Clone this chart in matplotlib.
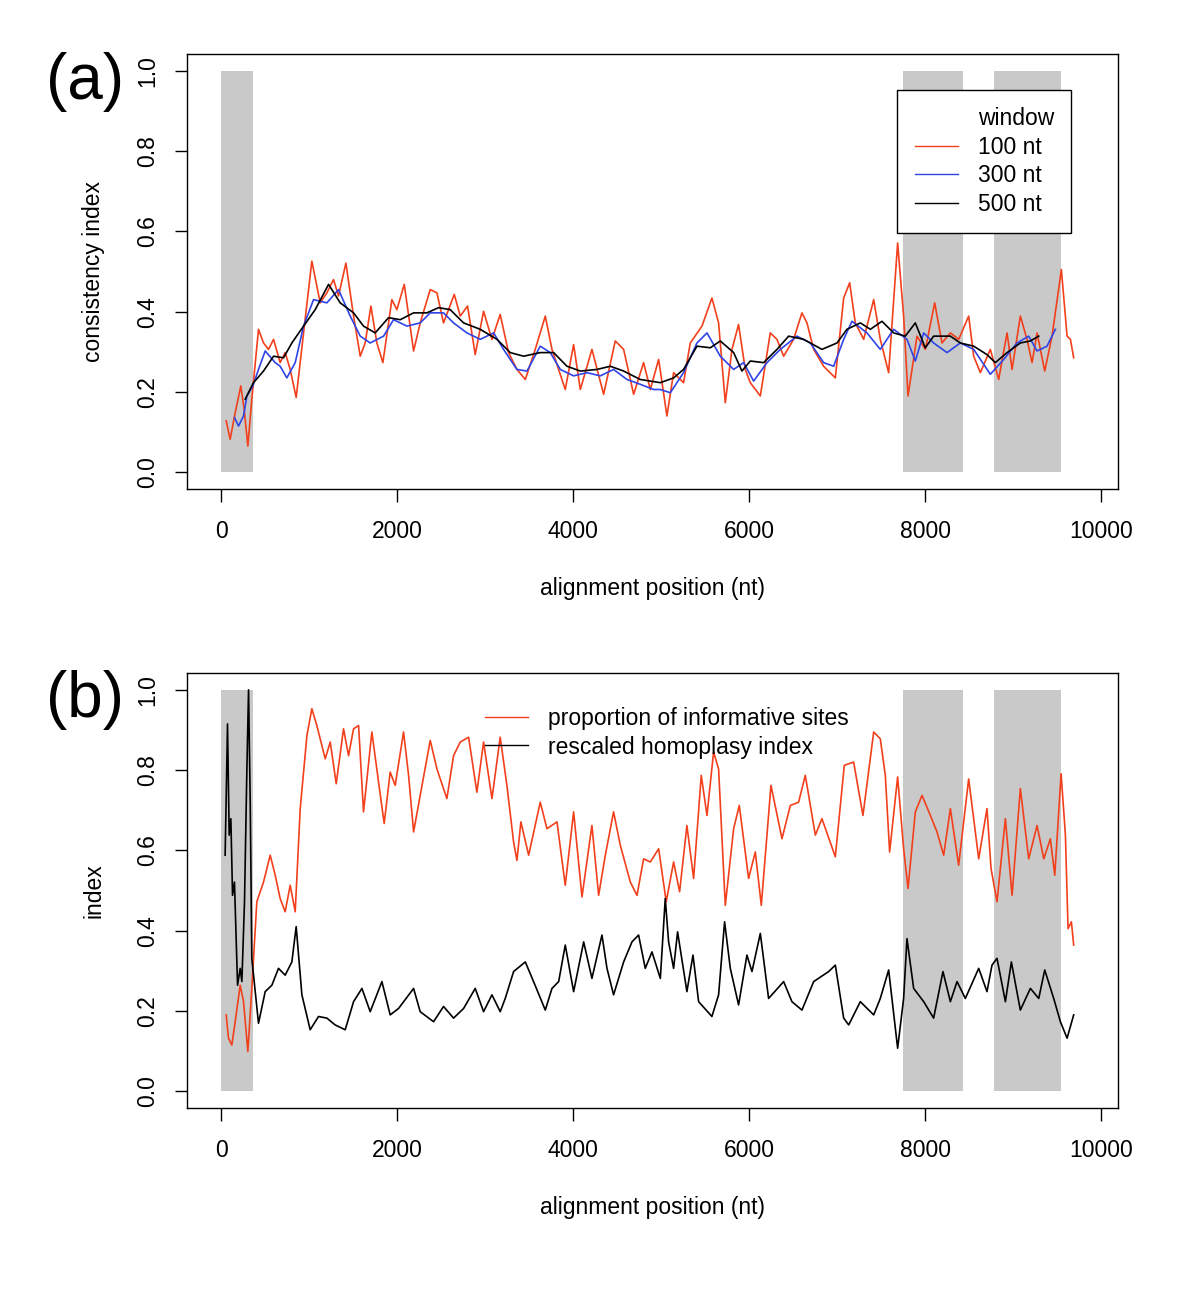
import matplotlib
matplotlib.use('Agg')
import matplotlib.pyplot as plt
from matplotlib.lines import Line2D

plt.rcParams['font.family'] = ['Liberation Sans', 'DejaVu Sans']

# shaded regions (nt)
shade_starts = [0, 7750, 8775]
shade_ends = [360, 8430, 9545]

# (a) consistency index, 100 nt window
ci100_x = [57, 102, 159, 223, 261, 303, 348, 424, 481, 538, 595, 670, 727, 784, 852, 936,
           1030, 1125, 1201, 1276, 1333, 1417, 1504, 1580, 1636, 1701, 1769, 1837, 1939, 1996,
           2080, 2186, 2261, 2375, 2451, 2526, 2648, 2716, 2799, 2886, 2981, 3076, 3170, 3265,
           3360, 3455, 3568, 3682, 3758, 3909, 4004, 4080, 4212, 4345, 4477, 4572, 4686, 4799,
           4875, 4970, 5064, 5140, 5253, 5329, 5462, 5575, 5651, 5727, 5803, 5878, 5954, 6011,
           6125, 6238, 6314, 6390, 6503, 6598, 6655, 6731, 6844, 6977, 7072, 7140, 7204, 7299,
           7413, 7488, 7583, 7685, 7753, 7803, 7905, 8000, 8106, 8189, 8284, 8379, 8492, 8549,
           8625, 8738, 8833, 8928, 8985, 9079, 9155, 9212, 9269, 9356, 9439, 9545, 9610, 9648,
           9685]
ci100_y = [0.128, 0.082, 0.148, 0.215, 0.157, 0.065, 0.182, 0.356, 0.322, 0.306, 0.331, 0.273,
           0.298, 0.256, 0.186, 0.347, 0.526, 0.422, 0.447, 0.480, 0.439, 0.521, 0.389, 0.289,
           0.322, 0.414, 0.322, 0.273, 0.430, 0.405, 0.468, 0.302, 0.372, 0.455, 0.447, 0.372,
           0.443, 0.389, 0.414, 0.293, 0.401, 0.331, 0.393, 0.298, 0.256, 0.231, 0.306, 0.389,
           0.306, 0.206, 0.318, 0.206, 0.306, 0.194, 0.327, 0.306, 0.194, 0.273, 0.206, 0.281,
           0.140, 0.248, 0.223, 0.322, 0.364, 0.434, 0.372, 0.173, 0.306, 0.368, 0.256, 0.223,
           0.190, 0.347, 0.331, 0.289, 0.331, 0.397, 0.372, 0.306, 0.264, 0.235, 0.434, 0.472,
           0.372, 0.331, 0.430, 0.331, 0.248, 0.571, 0.389, 0.190, 0.339, 0.306, 0.422, 0.322,
           0.347, 0.331, 0.389, 0.289, 0.248, 0.306, 0.231, 0.347, 0.256, 0.389, 0.331, 0.273,
           0.347, 0.252, 0.339, 0.505, 0.339, 0.331, 0.285]

# (a) 300 nt window
ci300_x = [152, 197, 254, 292, 360, 424, 500, 614, 670, 746, 841, 936, 1049, 1201, 1333, 1466,
           1580, 1693, 1845, 1958, 2110, 2261, 2375, 2526, 2640, 2792, 2943, 3095, 3208, 3360,
           3474, 3625, 3739, 3852, 4004, 4155, 4307, 4458, 4610, 4761, 4913, 4988, 5102, 5253,
           5405, 5519, 5670, 5822, 5935, 6049, 6201, 6352, 6541, 6693, 6844, 6958, 7072, 7166,
           7337, 7488, 7640, 7791, 7886, 7981, 8094, 8246, 8397, 8549, 8738, 8890, 9041, 9174,
           9269, 9382, 9477]
ci300_y = [0.136, 0.115, 0.140, 0.190, 0.215, 0.256, 0.302, 0.273, 0.264, 0.235, 0.273, 0.364,
           0.430, 0.422, 0.455, 0.389, 0.339, 0.322, 0.339, 0.380, 0.364, 0.372, 0.397, 0.397,
           0.372, 0.347, 0.331, 0.347, 0.306, 0.256, 0.252, 0.314, 0.298, 0.256, 0.240, 0.248,
           0.240, 0.256, 0.231, 0.219, 0.206, 0.206, 0.198, 0.248, 0.322, 0.347, 0.289, 0.256,
           0.273, 0.227, 0.273, 0.306, 0.339, 0.322, 0.273, 0.264, 0.331, 0.376, 0.347, 0.306,
           0.356, 0.331, 0.277, 0.347, 0.322, 0.298, 0.322, 0.306, 0.244, 0.281, 0.322, 0.339,
           0.302, 0.314, 0.356]

# (a) 500 nt window
ci500_x = [273, 367, 481, 595, 708, 803, 936, 1068, 1220, 1352, 1504, 1617, 1750, 1901, 2034,
           2186, 2337, 2470, 2602, 2754, 2943, 3133, 3284, 3436, 3625, 3777, 3928, 4080, 4269,
           4421, 4572, 4761, 4989, 5140, 5253, 5405, 5557, 5670, 5822, 5916, 6011, 6163, 6314,
           6447, 6617, 6825, 6996, 7109, 7261, 7375, 7507, 7640, 7772, 7886, 7999, 8094, 8284,
           8397, 8549, 8700, 8795, 8928, 9079, 9193, 9288]
ci500_y = [0.182, 0.223, 0.252, 0.289, 0.285, 0.322, 0.364, 0.405, 0.468, 0.422, 0.397, 0.364,
           0.347, 0.385, 0.380, 0.397, 0.397, 0.410, 0.405, 0.372, 0.356, 0.331, 0.298, 0.289,
           0.298, 0.298, 0.264, 0.252, 0.256, 0.264, 0.252, 0.231, 0.223, 0.235, 0.256, 0.314,
           0.310, 0.327, 0.298, 0.252, 0.277, 0.273, 0.306, 0.339, 0.331, 0.306, 0.322, 0.356,
           0.372, 0.356, 0.376, 0.347, 0.339, 0.372, 0.310, 0.339, 0.339, 0.322, 0.314, 0.293,
           0.273, 0.298, 0.322, 0.327, 0.339]

# (b) proportion of informative sites
pis_x = [57, 83, 121, 159, 216, 254, 303, 348, 405, 481, 557, 614, 670, 727, 784, 841, 898, 974,
         1030, 1087, 1182, 1239, 1307, 1390, 1447, 1504, 1561, 1617, 1712, 1788, 1852, 1920,
         1977, 2072, 2129, 2186, 2261, 2375, 2451, 2564, 2640, 2716, 2811, 2905, 2981, 3076,
         3170, 3246, 3322, 3360, 3405, 3493, 3625, 3701, 3815, 3909, 4004, 4099, 4212, 4288,
         4364, 4458, 4534, 4648, 4724, 4799, 4875, 4970, 5056, 5140, 5208, 5291, 5367, 5454,
         5519, 5594, 5651, 5727, 5822, 5886, 5992, 6068, 6136, 6246, 6371, 6466, 6560, 6636,
         6750, 6825, 6977, 7079, 7185, 7291, 7413, 7488, 7545, 7594, 7685, 7753, 7803, 7886,
         7962, 8057, 8132, 8208, 8284, 8378, 8492, 8606, 8700, 8746, 8814, 8909, 8985, 9079,
         9174, 9269, 9345, 9420, 9470, 9542, 9591, 9621, 9659, 9685]
pis_y = [0.190, 0.132, 0.115, 0.173, 0.264, 0.223, 0.099, 0.256, 0.472, 0.521, 0.588, 0.538,
         0.480, 0.447, 0.513, 0.447, 0.704, 0.886, 0.953, 0.911, 0.828, 0.870, 0.766, 0.903,
         0.836, 0.903, 0.911, 0.696, 0.895, 0.770, 0.667, 0.795, 0.762, 0.895, 0.787, 0.646,
         0.737, 0.874, 0.803, 0.729, 0.836, 0.870, 0.882, 0.745, 0.870, 0.729, 0.882, 0.762,
         0.621, 0.575, 0.671, 0.588, 0.720, 0.654, 0.671, 0.513, 0.696, 0.484, 0.662, 0.488,
         0.588, 0.696, 0.613, 0.521, 0.488, 0.579, 0.571, 0.604, 0.472, 0.571, 0.497, 0.662,
         0.530, 0.787, 0.687, 0.845, 0.803, 0.463, 0.654, 0.712, 0.530, 0.596, 0.463, 0.762,
         0.629, 0.712, 0.720, 0.787, 0.638, 0.679, 0.584, 0.812, 0.820, 0.687, 0.895, 0.878,
         0.787, 0.596, 0.783, 0.604, 0.505, 0.696, 0.737, 0.687, 0.646, 0.588, 0.704, 0.563,
         0.778, 0.579, 0.704, 0.555, 0.472, 0.679, 0.488, 0.754, 0.579, 0.662, 0.579, 0.629,
         0.538, 0.791, 0.638, 0.405, 0.422, 0.364]

# (b) rescaled homoplasy index
rhi_x = [45, 72, 91, 110, 129, 151, 186, 216, 235, 265, 292, 311, 330, 348, 424, 500, 576, 651,
         727, 803, 852, 917, 1011, 1106, 1201, 1295, 1409, 1504, 1599, 1693, 1826, 1920, 2015,
         2186, 2261, 2413, 2526, 2640, 2754, 2886, 2981, 3076, 3170, 3227, 3322, 3455, 3549,
         3682, 3758, 3834, 3909, 4004, 4118, 4212, 4326, 4383, 4458, 4572, 4667, 4742, 4818,
         4894, 4989, 5045, 5083, 5140, 5185, 5291, 5360, 5424, 5575, 5651, 5719, 5784, 5878,
         5973, 6030, 6125, 6219, 6390, 6484, 6598, 6731, 6901, 6977, 7072, 7129, 7261, 7413,
         7488, 7583, 7685, 7753, 7791, 7867, 7981, 8094, 8200, 8284, 8360, 8454, 8606, 8700,
         8757, 8814, 8909, 8977, 9079, 9193, 9288, 9356, 9458, 9534, 9610, 9685]
rhi_y = [0.588, 0.915, 0.638, 0.679, 0.488, 0.521, 0.264, 0.306, 0.273, 0.472, 0.803, 1.000,
         0.720, 0.331, 0.169, 0.248, 0.264, 0.306, 0.289, 0.322, 0.410, 0.240, 0.153, 0.186,
         0.182, 0.165, 0.153, 0.223, 0.256, 0.198, 0.273, 0.190, 0.206, 0.256, 0.198, 0.173,
         0.211, 0.182, 0.206, 0.256, 0.198, 0.240, 0.198, 0.231, 0.298, 0.322, 0.273, 0.202,
         0.256, 0.273, 0.364, 0.248, 0.372, 0.281, 0.389, 0.306, 0.240, 0.322, 0.372, 0.389,
         0.306, 0.347, 0.281, 0.480, 0.372, 0.306, 0.397, 0.248, 0.339, 0.223, 0.186, 0.240,
         0.422, 0.306, 0.215, 0.339, 0.298, 0.393, 0.231, 0.273, 0.223, 0.202, 0.273, 0.298,
         0.314, 0.182, 0.165, 0.223, 0.190, 0.231, 0.302, 0.107, 0.231, 0.380, 0.256, 0.223,
         0.182, 0.298, 0.223, 0.273, 0.231, 0.306, 0.248, 0.314, 0.331, 0.223, 0.322, 0.202,
         0.256, 0.231, 0.302, 0.231, 0.173, 0.132, 0.190]

xticks = [0, 2000, 4000, 6000, 8000, 10000]
yticks = [0.0, 0.2, 0.4, 0.6, 0.8, 1.0]

RED = '#f2401c'
BLUE = '#2f44e6'
GRAY = '#c9c9c9'
FS = 16.5

fig = plt.figure(figsize=(12, 13.02), dpi=100)
ax_a = fig.add_axes([0.156, 0.6244, 0.776, 0.3341])
ax_b = fig.add_axes([0.156, 0.1490, 0.776, 0.3341])

for ax in (ax_a, ax_b):
    for s, e in zip(shade_starts, shade_ends):
        ax.fill_between([s, e], 0, 1, color=GRAY, lw=0, zorder=0)
    ax.set_xlim(-386, 10193)
    ax.set_ylim(-0.042, 1.042)
    ax.set_xticks(xticks)
    ax.set_xticklabels([str(t) for t in xticks])
    ax.set_yticks(yticks)
    ax.set_yticklabels(['%.1f' % t for t in yticks], rotation=90, va='center')
    ax.tick_params(axis='both', direction='out', length=9, width=1, labelsize=FS)
    ax.tick_params(axis='x', pad=13)
    ax.tick_params(axis='y', pad=11)
    for sp in ax.spines.values():
        sp.set_linewidth(1.0)
    ax.set_xlabel('alignment position (nt)', fontsize=FS)
    ax.xaxis.set_label_coords(0.5, -0.203)

ax_a.plot(ci100_x, ci100_y, color=RED, lw=1.2)
ax_a.plot(ci300_x, ci300_y, color=BLUE, lw=1.2)
ax_a.plot(ci500_x, ci500_y, color='black', lw=1.2)
ax_a.set_ylabel('consistency index', fontsize=FS)
ax_a.yaxis.set_label_coords(-0.088, 0.5)

handles = [Line2D([], [], color='none'),
           Line2D([], [], color=RED, lw=1),
           Line2D([], [], color=BLUE, lw=1),
           Line2D([], [], color='black', lw=1)]
leg = ax_a.legend(handles, ['window', '100 nt', '300 nt', '500 nt'],
                  loc='upper left', bbox_to_anchor=(0.7626, 0.9172), borderaxespad=0,
                  fontsize=FS, frameon=True, fancybox=False, edgecolor='black',
                  framealpha=1, handlelength=1.9, handletextpad=0.87, borderpad=0.75,
                  labelspacing=0.24)
leg.get_frame().set_linewidth(1.0)

ax_b.plot(pis_x, pis_y, color=RED, lw=1.2)
ax_b.plot(rhi_x, rhi_y, color='black', lw=1.2)
ax_b.set_ylabel('index', fontsize=FS)
ax_b.yaxis.set_label_coords(-0.088, 0.5)
ax_b.legend([Line2D([], [], color=RED, lw=1), Line2D([], [], color='black', lw=1)],
            ['proportion of informative sites', 'rescaled homoplasy index'],
            loc='upper left', bbox_to_anchor=(0.3201, 0.9218), borderaxespad=0,
            borderpad=0, fontsize=FS, frameon=False,
            handlelength=1.85, handletextpad=0.87, labelspacing=0.24)

fig.text(0.071, 0.937, '(a)', fontsize=46, ha='center', va='center')
fig.text(0.071, 0.462, '(b)', fontsize=46, ha='center', va='center')

fig.savefig('out.png', dpi=100)
